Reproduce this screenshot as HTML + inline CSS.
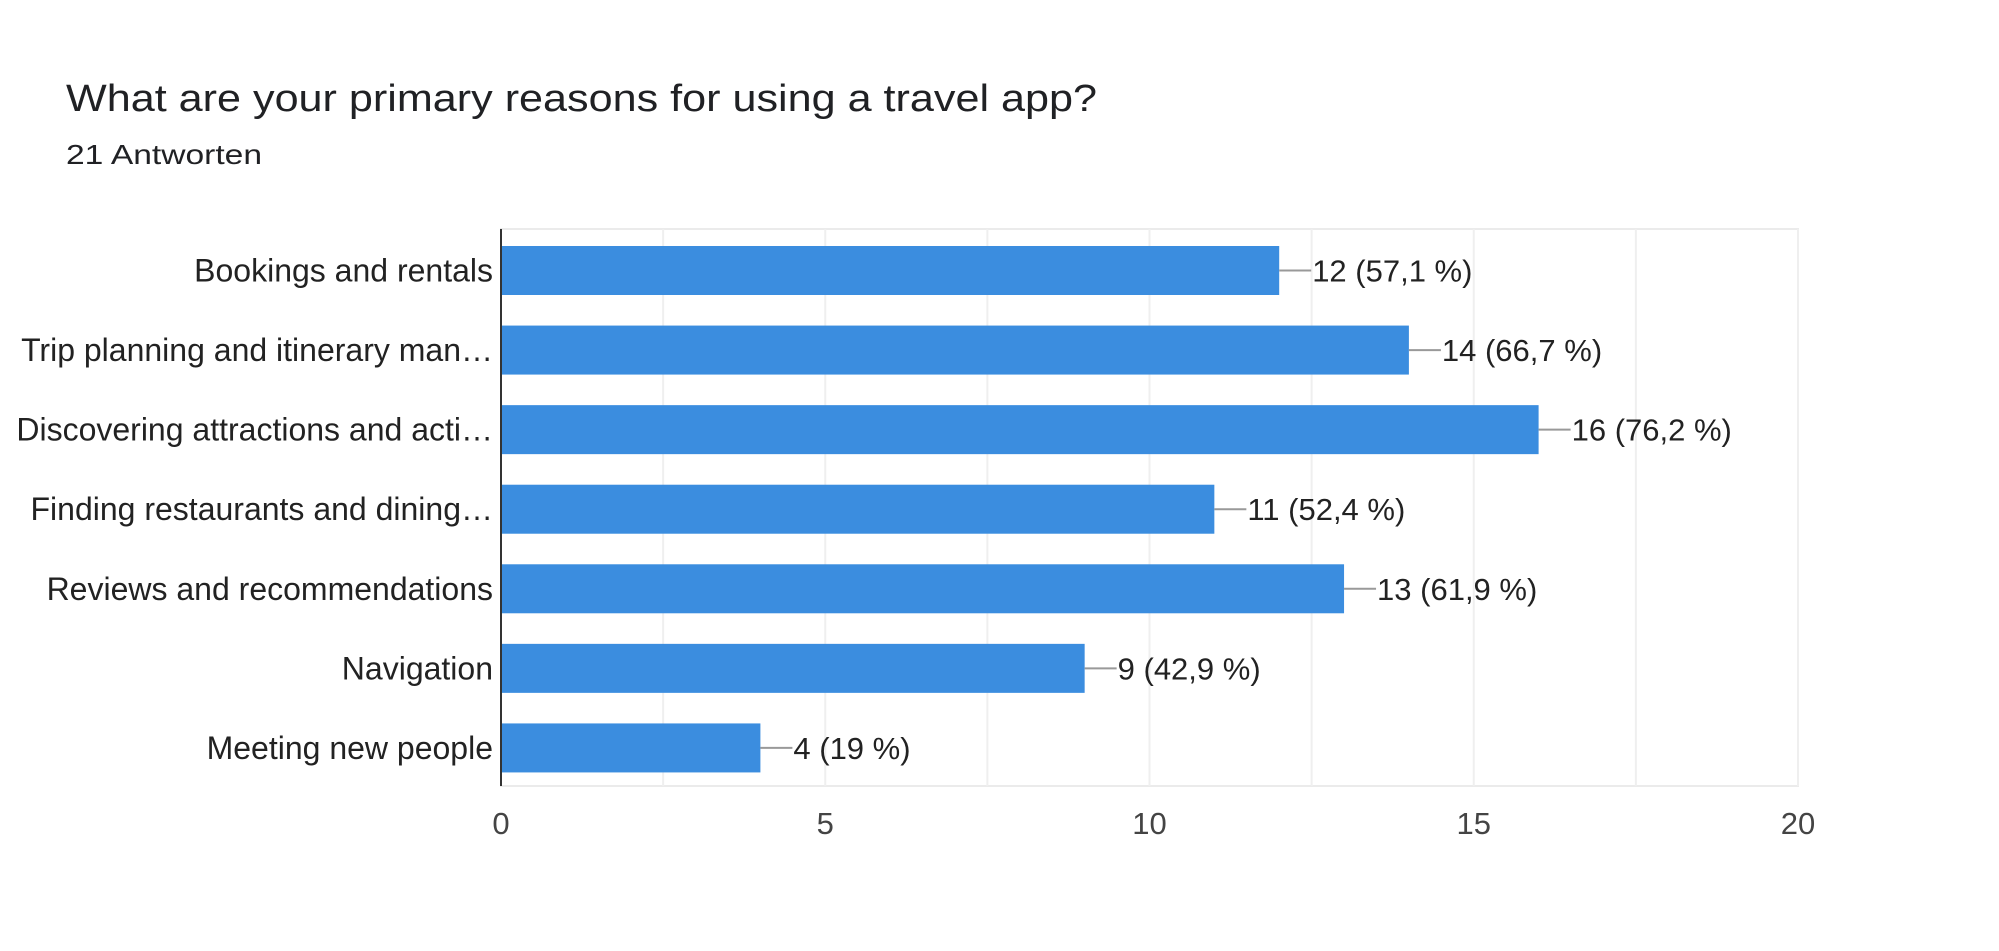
<!DOCTYPE html>
<html><head><meta charset="utf-8"><style>
html,body{margin:0;padding:0;background:#fff;}
svg{display:block;font-family:"Liberation Sans",Arial,sans-serif;}
</style></head><body>
<svg id="chart" width="1999" height="951" viewBox="0 0 1999 951">
<text x="66" y="111" font-size="38" fill="#202124" textLength="1031" lengthAdjust="spacingAndGlyphs">What are your primary reasons for using a travel app?</text>
<text x="66" y="164" font-size="28" fill="#202124" textLength="196" lengthAdjust="spacingAndGlyphs">21 Antworten</text>
<g id="grid"></g><g id="bars"></g><g id="labels"></g>
</svg>
<script>
const categories = ["Bookings and rentals","Trip planning and itinerary man…","Discovering attractions and acti…","Finding restaurants and dining…","Reviews and recommendations","Navigation","Meeting new people"];
const values = [12,14,16,11,13,9,4];
const valueLabels = ["12 (57,1 %)","14 (66,7 %)","16 (76,2 %)","11 (52,4 %)","13 (61,9 %)","9 (42,9 %)","4 (19 %)"];
const ticks = [0,5,10,15,20];
const xMax = 20;
const L=501,R=1798,T=229,B=786;
const NS="http://www.w3.org/2000/svg";
function x(v){return L+(R-L)*v/xMax;}
const band=(B-T)/categories.length;
function yb(i){return T+band*i;}
function mk(tag,attrs,parent,txt){const e=document.createElementNS(NS,tag);for(const k in attrs)e.setAttribute(k,attrs[k]);if(txt!==undefined)e.textContent=txt;parent.appendChild(e);return e;}
const grid=document.getElementById('grid'),bars=document.getElementById('bars'),labels=document.getElementById('labels');
mk('rect',{x:L,y:T,width:R-L,height:B-T,fill:'none',stroke:'#ebebeb','stroke-width':2},grid);
for(let k=1;k<ticks.length*2-1;k++){const v=k*xMax/(ticks.length*2-2);
 const g=mk('line',{x1:x(v),x2:x(v),y1:T,y2:B,stroke:'#efefef','stroke-width':2},grid);
 
 }
ticks.forEach(t=>{const e=mk('text',{x:x(t),y:834,'font-size':31,fill:'#444','text-anchor':'middle'},labels,String(t));
 
 });
categories.forEach((c,i)=>{
 const y0=yb(i)+17,h=49;
 const r=mk('rect',{x:L,y:y0,width:x(values[i])-L,height:h,fill:'#3b8ddf'},bars);
 
 
 const cy=y0+h/2;
 mk('line',{x1:x(values[i]),x2:x(values[i])+32,y1:cy,y2:cy,stroke:'#999','stroke-width':2},bars);
 const vl=mk('text',{x:x(values[i])+33,y:cy+11,'font-size':31,fill:'#222'},labels,valueLabels[i]);
 
 
 const cl=mk('text',{x:493,y:cy+11,'font-size':32,fill:'#222','text-anchor':'end'},labels,c);
 
 
});
mk('line',{x1:L,x2:L,y1:T,y2:B,stroke:'#333','stroke-width':2},labels);
</script>
</body></html>
